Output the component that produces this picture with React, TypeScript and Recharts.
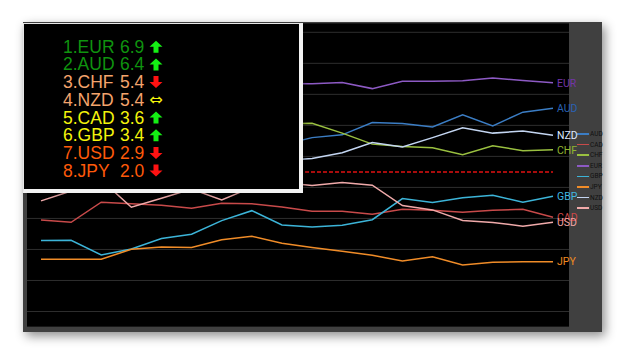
import React from 'react';
import { LineChart, Line, XAxis, YAxis, CartesianGrid, ReferenceLine, LabelList } from 'recharts';

// time slots (not labelled in the picture)
const slots = ['01', '02', '03', '04', '05', '06', '07', '08', '09', '10', '11', '12', '13', '14', '15', '16', '17', '18'];

const currencies = ['AUD', 'CAD', 'CHF', 'EUR', 'GBP', 'JPY', 'NZD', 'USD'];
const lineColors = ['#3b7dc4', '#c84a4a', '#9ac040', '#8d5ac4', '#3cb4d8', '#f08c28', '#c4d6f2', '#f0aaaa'];
const labelColors = ['#2a62b4', '#d04848', '#90b430', '#7434a8', '#40b8e0', '#f08a20', '#dce8ff', '#f0a4a4'];

const audValues = [11.0, 11.3, 11.8, 11.5, 12.0, 11.6, 11.9, 11.5, 11.73, 12.21, 12.39, 13.18, 13.12, 12.9, 13.68, 12.97, 13.85, 14.11];
const cadValues = [6.9, 6.75, 8.05, 7.95, 7.85, 7.66, 7.98, 7.95, 7.74, 7.46, 7.46, 7.27, 7.59, 7.53, 7.4, 7.53, 7.59, 7.08];
const chfValues = [12.5, 12.8, 12.4, 12.9, 13.2, 12.8, 13.0, 13.3, 13.1, 13.14, 12.5, 11.79, 11.63, 11.55, 11.11, 11.69, 11.37, 11.42];
const eurValues = [15.6, 15.8, 15.5, 15.9, 16.1, 15.7, 15.9, 15.6, 15.7, 15.68, 15.76, 15.37, 15.85, 15.85, 15.87, 16.06, 15.89, 15.74];
const gbpValues = [5.57, 5.59, 4.65, 5.03, 5.7, 5.98, 6.86, 7.5, 6.58, 6.45, 6.56, 6.92, 8.28, 8.02, 8.34, 8.5, 8.05, 8.43];
const jpyValues = [4.37, 4.37, 4.37, 5.01, 5.16, 5.12, 5.63, 5.85, 5.4, 5.13, 4.88, 4.63, 4.26, 4.53, 4.0, 4.17, 4.21, 4.21];
const nzdValues = [10.2, 10.5, 10.4, 10.9, 10.6, 11.0, 10.7, 10.5, 10.74, 10.86, 11.23, 11.89, 11.61, 12.21, 12.84, 12.5, 12.63, 12.37];
const usdValues = [8.13, 8.77, 9.48, 7.72, 8.3, 8.9, 8.19, 9.0, 9.32, 9.12, 9.31, 9.14, 7.83, 7.55, 6.87, 6.74, 6.5, 6.76];

const seriesValues = [audValues, cadValues, chfValues, eurValues, gbpValues, jpyValues, nzdValues, usdValues];

const gridTicks = [1, 2, 3, 4, 5, 6, 7, 8, 9, 10, 11, 12, 13, 14, 15, 16, 17, 18, 19];
const levelValue = 10;

// ranking box
const rankNames = ['EUR', 'AUD', 'CHF', 'NZD', 'CAD', 'GBP', 'USD', 'JPY'];
const rankScores = ['6.9', '6.4', '5.4', '5.4', '3.6', '3.4', '2.9', '2.0'];
const rankTrend = ['up', 'up', 'down', 'flat', 'up', 'up', 'down', 'down'];
const rankColors = ['#0f930f', '#0f930f', '#f4a46c', '#f4a46c', '#f4f40c', '#f4f40c', '#ff5a0a', '#ff5a0a'];

const chartData = slots.map((s, i) => {
    const row: any = { t: s };
    currencies.forEach((c, k) => { row[c] = seriesValues[k][i]; });
    return row;
});

const endLabel = (name: string, color: string) => (props: any) => {
    const { x, y, index } = props;
    if (index !== slots.length - 1) return <g />;
    return (
        <text x={x + 4} y={y} dy="0.36em" fill={color} fontSize={10.5} fontFamily="Roboto, 'DejaVu Sans', sans-serif">
            {name}
        </text>
    );
};

const Arrow = ({ cx, base, dir }: { cx: number; base: number; dir: string }) => {
    if (dir === 'flat') {
        return (
            <text x={cx} y={base - 1} textAnchor="middle" fill="#f4f40c" fontSize={16} fontFamily="'DejaVu Sans', sans-serif">⇔</text>
        );
    }
    const top = base - 12;
    const pts = dir === 'up'
        ? [[cx, top], [cx + 6.5, top + 6], [cx + 2.5, top + 6], [cx + 2.5, base], [cx - 2.5, base], [cx - 2.5, top + 6], [cx - 6.5, top + 6]]
        : [[cx, base], [cx + 6.5, base - 6], [cx + 2.5, base - 6], [cx + 2.5, top], [cx - 2.5, top], [cx - 2.5, base - 6], [cx - 6.5, base - 6]];
    return <polygon points={pts.map(p => p.join(',')).join(' ')} fill={dir === 'up' ? '#14ef14' : '#ff1212'} />;
};

export default function App() {
    return (
        <div style={{ position: 'absolute', left: 0, top: 0, width: 625, height: 355, background: '#fff', overflow: 'hidden' }}>
            {/* outer frame */}
            <div style={{ position: 'absolute', left: 23, top: 22, width: 579, height: 310, background: '#404040', boxShadow: '3px 4px 10px rgba(0,0,0,0.45)' }} />

            {/* plot background */}
            <div style={{ position: 'absolute', left: 27, top: 23, width: 542, height: 304, background: '#000' }} />

            {/* legend in the grey side panel */}
            {currencies.map((c, k) => (
                <div key={c} style={{ position: 'absolute', left: 577, top: 130 + k * 10.6, height: 8, display: 'flex', alignItems: 'center' }}>
                    <div style={{ width: 12, height: 1.5, background: lineColors[k] }} />
                    <span style={{ fontSize: 6.5, fontFamily: 'Roboto, sans-serif', color: '#101010', marginLeft: 1 }}>{c}</span>
                </div>
            ))}

            {/* chart: svg wider than the plot so the end labels can run into the side panel */}
            <div style={{ position: 'absolute', left: 27, top: 23 }}>
                <LineChart width={575} height={304} data={chartData} margin={{ top: 0, right: 33, bottom: 0, left: 0 }}>
                    <CartesianGrid vertical={false} stroke="#2e2e2e" />
                    <XAxis dataKey="t" hide padding={{ left: 14, right: 16 }} />
                    <YAxis hide domain={[0, 19.6]} ticks={gridTicks} />
                    <ReferenceLine
                        segment={[{ x: slots[0], y: levelValue }, { x: slots[slots.length - 1], y: levelValue }]}
                        stroke="#e01010"
                        strokeWidth={1.5}
                        strokeDasharray="4 2"
                    />
                    {currencies.map((c, k) => (
                        <Line
                            key={c}
                            type="linear"
                            dataKey={c}
                            stroke={lineColors[k]}
                            strokeWidth={1.5}
                            dot={false}
                            isAnimationActive={false}
                        >
                            <LabelList dataKey={c} content={endLabel(c, labelColors[k])} />
                        </Line>
                    ))}
                </LineChart>
            </div>

            {/* ranking box */}
            <div style={{
                position: 'absolute', left: 23, top: 23, width: 280, height: 170, boxSizing: 'border-box', background: '#000',
                borderTop: '1px solid #e6e6e6', borderLeft: '1px solid #e6e6e6', borderRight: '4px solid #f2f2f2', borderBottom: '4px solid #f2f2f2',
                boxShadow: '2px 2px 4px rgba(0,0,0,0.3)'
            }} />
            <svg width={625} height={355} style={{ position: 'absolute', left: 0, top: 0, pointerEvents: 'none' }}>
                {rankNames.map((n, i) => {
                    const base = 52.7 + i * 17.7;
                    return (
                        <g key={n} fontFamily="'Liberation Sans', Arial, sans-serif" fontSize={17.5} fill={rankColors[i]}>
                            <text x={63} y={base}>{`${i + 1}.${n}`}</text>
                            <text x={120} y={base}>{rankScores[i]}</text>
                            <Arrow cx={156} base={base} dir={rankTrend[i]} />
                        </g>
                    );
                })}
            </svg>
        </div>
    );
}
